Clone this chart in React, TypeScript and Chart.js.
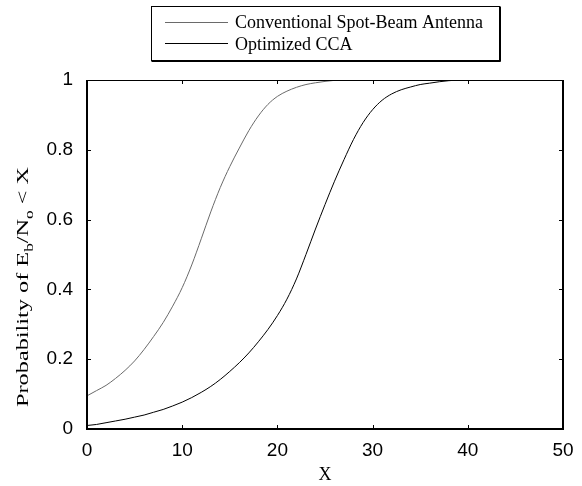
import { useEffect, useRef } from "react";
import { Chart, registerables } from "chart.js";

Chart.register(...registerables);

// Eb/No values (dB) and cumulative probabilities for each antenna
const xConventional = [0, 1, 2, 3, 4, 5, 6, 7, 8, 9, 10, 11, 12, 13, 14, 15, 16, 17, 18, 19, 20, 21, 22, 23, 24, 25, 26, 27];
const conventional = [0.095, 0.11, 0.125, 0.145, 0.168, 0.195, 0.228, 0.265, 0.305, 0.352, 0.405, 0.47, 0.545, 0.622, 0.692, 0.752, 0.805, 0.855, 0.897, 0.93, 0.953, 0.968, 0.979, 0.987, 0.992, 0.996, 0.999, 1];

const xOptimized = [0, 1, 2, 3, 4, 5, 6, 7, 8, 9, 10, 11, 12, 13, 14, 15, 16, 17, 18, 19, 20, 21, 22, 23, 24, 25, 26, 27, 28, 29, 30, 31, 32, 33, 34, 35, 36, 37, 38, 39];
const optimized = [0.01, 0.013, 0.018, 0.023, 0.028, 0.034, 0.04, 0.048, 0.056, 0.066, 0.077, 0.09, 0.105, 0.122, 0.142, 0.165, 0.19, 0.218, 0.25, 0.285, 0.325, 0.372, 0.43, 0.5, 0.573, 0.643, 0.71, 0.772, 0.83, 0.878, 0.915, 0.942, 0.96, 0.972, 0.98, 0.987, 0.991, 0.995, 0.998, 1];

const xTicks = [0, 10, 20, 30, 40, 50];
const yTicks = [0, 0.2, 0.4, 0.6, 0.8, 1];

const seriesLabels = ["Conventional Spot-Beam Antenna", "Optimized CCA"];
const seriesColors = ["#6a6a6a", "#000000"];

const xTitle = "X";
// y title pieces: [text, isSubscript]
const yTitleParts: [string, boolean][] = [
  ["Probability of E", false],
  ["b", true],
  ["/N", false],
  ["o", true],
  [" < X", false],
];

const SANS = "'Liberation Sans', Arial, sans-serif";
const SERIF = "'Liberation Serif', 'Times New Roman', serif";

// Boxed axes with inward tick marks on all four sides
const framePlugin = {
  id: "frame",
  afterDatasetsDraw(chart: any) {
    const { ctx, chartArea, scales } = chart;
    const { left, right, top, bottom } = chartArea;
    const tick = 4;
    ctx.save();
    ctx.strokeStyle = "#000";
    ctx.lineWidth = 1;
    ctx.beginPath();
    ctx.moveTo(left, top + 0.5);
    ctx.lineTo(right, top + 0.5);
    ctx.stroke();
    ctx.lineWidth = 2;
    ctx.beginPath();
    ctx.moveTo(left, top);
    ctx.lineTo(left, bottom);
    ctx.lineTo(right, bottom);
    ctx.lineTo(right, top);
    ctx.stroke();
    ctx.lineWidth = 1;
    ctx.beginPath();
    for (const v of xTicks) {
      const px = Math.round(scales.x.getPixelForValue(v)) + 0.5;
      ctx.moveTo(px, bottom);
      ctx.lineTo(px, bottom - tick);
      ctx.moveTo(px, top);
      ctx.lineTo(px, top + tick);
    }
    for (const v of yTicks) {
      const py = Math.round(scales.y.getPixelForValue(v)) + 0.5;
      ctx.moveTo(left, py);
      ctx.lineTo(left + tick, py);
      ctx.moveTo(right, py);
      ctx.lineTo(right - tick, py);
    }
    ctx.stroke();
    ctx.restore();
  },
};

// Y axis title with subscripts, rotated
const yTitlePlugin = {
  id: "yTitle",
  afterDraw(chart: any) {
    const { ctx } = chart;
    const mainFont = `17px ${SERIF}`;
    const subFont = `12px ${SERIF}`;
    ctx.save();
    let total = 0;
    for (const [t, sub] of yTitleParts) {
      ctx.font = sub ? subFont : mainFont;
      total += ctx.measureText(t).width;
    }
    const targetLength = 240;
    const stretch = targetLength / total;
    ctx.translate(28, 287);
    ctx.rotate(-Math.PI / 2);
    ctx.scale(stretch, 1);
    ctx.fillStyle = "#000";
    ctx.textBaseline = "alphabetic";
    ctx.textAlign = "left";
    let x = -total / 2;
    for (const [t, sub] of yTitleParts) {
      ctx.font = sub ? subFont : mainFont;
      ctx.fillText(t, x, sub ? 5 : 0);
      x += ctx.measureText(t).width;
    }
    ctx.restore();
  },
};

// Boxed legend above the axes
const legendPlugin = {
  id: "boxLegend",
  afterDraw(chart: any) {
    const { ctx } = chart;
    const box = { x: 151.5, y: 6.5, w: 348, h: 54 };
    ctx.save();
    ctx.fillStyle = "#fff";
    ctx.fillRect(box.x, box.y, box.w, box.h);
    ctx.strokeStyle = "#000";
    ctx.lineWidth = 1;
    ctx.strokeRect(box.x, box.y, box.w, box.h);
    ctx.beginPath();
    ctx.moveTo(box.x + box.w + 1, box.y);
    ctx.lineTo(box.x + box.w + 1, box.y + box.h + 1);
    ctx.lineTo(box.x, box.y + box.h + 1);
    ctx.stroke();
    ctx.font = `18px ${SERIF}`;
    ctx.textBaseline = "alphabetic";
    ctx.textAlign = "left";
    const rows = [
      { line: 22.5, base: 28 },
      { line: 43.5, base: 50 },
    ];
    seriesLabels.forEach((label, i) => {
      ctx.strokeStyle = seriesColors[i];
      ctx.beginPath();
      ctx.moveTo(165, rows[i].line);
      ctx.lineTo(228, rows[i].line);
      ctx.stroke();
      ctx.fillStyle = "#000";
      ctx.fillText(label, 235, rows[i].base);
    });
    ctx.restore();
  },
};

export default function App() {
  const canvasRef = useRef<HTMLCanvasElement | null>(null);

  useEffect(() => {
    const canvas = canvasRef.current;
    if (!canvas) return;
    const chart = new Chart(canvas, {
      type: "scatter",
      data: {
        datasets: [
          {
            label: seriesLabels[0],
            data: xConventional.map((x, i) => ({ x, y: conventional[i] })),
            borderColor: seriesColors[0],
            borderWidth: 1,
            showLine: true,
            pointRadius: 0,
            cubicInterpolationMode: "monotone",
          },
          {
            label: seriesLabels[1],
            data: xOptimized.map((x, i) => ({ x, y: optimized[i] })),
            borderColor: seriesColors[1],
            borderWidth: 1,
            showLine: true,
            pointRadius: 0,
            cubicInterpolationMode: "monotone",
          },
        ],
      },
      options: {
        responsive: false,
        animation: false,
        layout: { padding: { top: 80, right: 19, left: 0, bottom: 0 } },
        plugins: {
          legend: { display: false },
          tooltip: { enabled: false },
        },
        scales: {
          x: {
            type: "linear",
            min: 0,
            max: 50,
            afterBuildTicks: (scale: any) => {
              scale.ticks = xTicks.map((value) => ({ value }));
            },
            afterFit: (scale: any) => {
              scale.height = 57;
            },
            grid: { display: false },
            border: { display: false },
            ticks: {
              color: "#000",
              font: { family: SANS, size: 19 },
              padding: 2,
              maxRotation: 0,
            },
            title: {
              display: true,
              text: xTitle,
              color: "#000",
              font: { family: SERIF, size: 18 },
              padding: { top: 0, bottom: 0 },
            },
          },
          y: {
            type: "linear",
            min: 0,
            max: 1,
            afterBuildTicks: (scale: any) => {
              scale.ticks = yTicks.map((value) => ({ value }));
            },
            afterFit: (scale: any) => {
              scale.width = 87;
            },
            grid: { display: false },
            border: { display: false },
            ticks: {
              color: "#000",
              font: { family: SANS, size: 19 },
              padding: 6,
              callback: (v: any) => String(Number(Number(v).toFixed(1))),
            },
          },
        },
      },
      plugins: [framePlugin, yTitlePlugin, legendPlugin],
    });
    return () => chart.destroy();
  }, []);

  return (
    <div style={{ position: "absolute", left: 0, top: 0, width: 582, height: 486, background: "#fff" }}>
      <canvas ref={canvasRef} width={582} height={486} style={{ display: "block" }} />
    </div>
  );
}
